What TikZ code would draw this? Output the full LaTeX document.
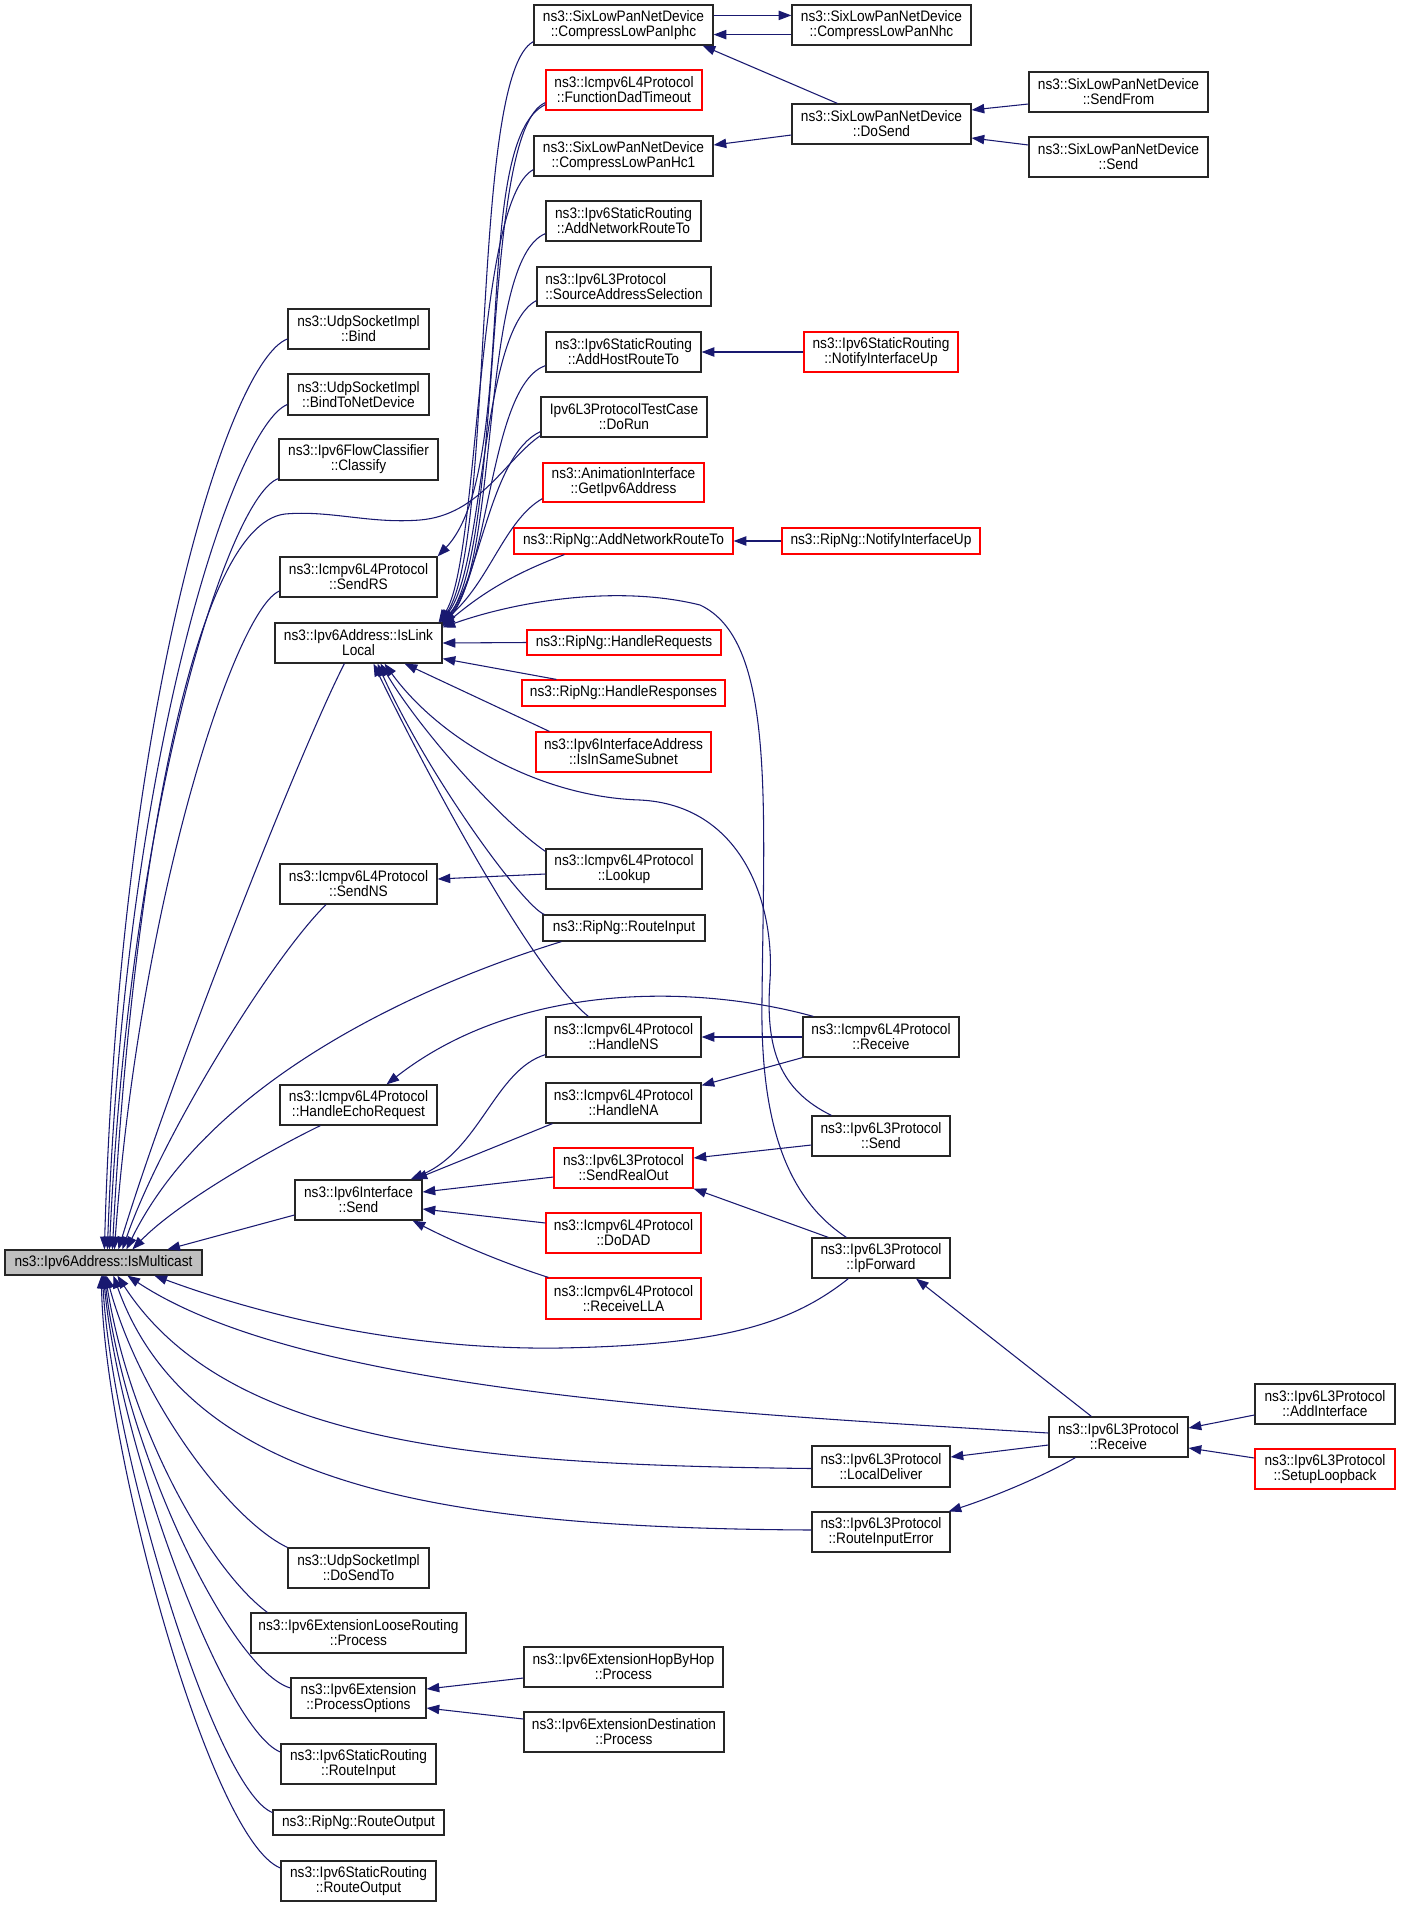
\documentclass[tikz,border=0pt]{standalone}
\usepackage{fontspec}
\setmainfont{Liberation Sans}[FakeStretch=0.9]
\usetikzlibrary{arrows.meta,calc}
\definecolor{edgec}{HTML}{191970}
\definecolor{redc}{HTML}{FF0000}
\definecolor{grayc}{HTML}{BFBFBF}
\newcommand{\mkbox}[7]{\node[#2, minimum width={(#5-#3)*0.75pt}, minimum height={(#6-#4)*0.75pt}] (#1) at ({(#3+#5)/2},{(#4+#6)/2}) {#7};}
\begin{document}
\begin{tikzpicture}[x=0.75pt,y=-0.75pt,
  callbox/.style={draw=black!85, line width=0.9pt, fill=white, inner sep=0pt, align=center, font=\fontsize{11.4}{11.25}\selectfont},
  redbox/.style={callbox, draw=redc},
  graybox/.style={callbox, fill=grayc},
  calledge/.style={draw=edgec, line width=0.8pt, -{Triangle[length=9.5pt,width=7pt]}}]
\useasboundingbox (0,0) rectangle (1400,1907);
% nodes
\mkbox{iphc}{callbox}{534}{5}{713}{45}{ns3::SixLowPanNetDevice\\::CompressLowPanIphc}
\mkbox{nhc}{callbox}{792}{5}{971}{45}{ns3::SixLowPanNetDevice\\::CompressLowPanNhc}
\mkbox{dad}{redbox}{546}{70}{702}{110}{ns3::Icmpv6L4Protocol\\::FunctionDadTimeout}
\mkbox{dosend}{callbox}{792}{104}{971}{144}{ns3::SixLowPanNetDevice\\::DoSend}
\mkbox{sendfrom}{callbox}{1029}{72}{1208}{112}{ns3::SixLowPanNetDevice\\::SendFrom}
\mkbox{sixsend}{callbox}{1029}{137}{1208}{177}{ns3::SixLowPanNetDevice\\::Send}
\mkbox{hcone}{callbox}{534}{136}{713}{176}{ns3::SixLowPanNetDevice\\::CompressLowPanHc1}
\mkbox{addnet}{callbox}{546}{201}{701}{241}{ns3::Ipv6StaticRouting\\::AddNetworkRouteTo}
\mkbox{srcsel}{callbox,align=left}{537}{267}{711}{306}{ns3::Ipv6L3Protocol\\::SourceAddressSelection}
\mkbox{addhost}{callbox}{546}{332}{701}{372}{ns3::Ipv6StaticRouting\\::AddHostRouteTo}
\mkbox{srnotify}{redbox}{804}{332}{958}{372}{ns3::Ipv6StaticRouting\\::NotifyInterfaceUp}
\mkbox{dorun}{callbox}{541}{397}{707}{437}{Ipv6L3ProtocolTestCase\\::DoRun}
\mkbox{getip}{redbox}{543}{463}{704}{502}{ns3::AnimationInterface\\::GetIpv6Address}
\mkbox{ripadd}{redbox}{514}{528}{733}{554}{ns3::RipNg::AddNetworkRouteTo}
\mkbox{ripnotify}{redbox}{782}{528}{980}{554}{ns3::RipNg::NotifyInterfaceUp}
\mkbox{bind}{callbox}{288}{309}{429}{349}{ns3::UdpSocketImpl\\::Bind}
\mkbox{bindnd}{callbox}{288}{374}{429}{415}{ns3::UdpSocketImpl\\::BindToNetDevice}
\mkbox{classify}{callbox}{279}{439}{438}{480}{ns3::Ipv6FlowClassifier\\::Classify}
\mkbox{sendrs}{callbox}{280}{557}{437}{597}{ns3::Icmpv6L4Protocol\\::SendRS}
\mkbox{ll}{callbox}{275}{623}{442}{663}{ns3::Ipv6Address::IsLink\\Local}
\mkbox{hreq}{redbox}{527}{630}{721}{655}{ns3::RipNg::HandleRequests}
\mkbox{hresp}{redbox}{522}{680}{725}{706}{ns3::RipNg::HandleResponses}
\mkbox{samesub}{redbox}{536}{732}{711}{772}{ns3::Ipv6InterfaceAddress\\::IsInSameSubnet}
\mkbox{lookup}{callbox}{546}{849}{702}{889}{ns3::Icmpv6L4Protocol\\::Lookup}
\mkbox{sendns}{callbox}{280}{864}{437}{904}{ns3::Icmpv6L4Protocol\\::SendNS}
\mkbox{ripin}{callbox}{543}{915}{705}{941}{ns3::RipNg::RouteInput}
\mkbox{hns}{callbox}{546}{1017}{701}{1057}{ns3::Icmpv6L4Protocol\\::HandleNS}
\mkbox{recvfour}{callbox}{803}{1017}{959}{1057}{ns3::Icmpv6L4Protocol\\::Receive}
\mkbox{hecho}{callbox}{280}{1085}{437}{1125}{ns3::Icmpv6L4Protocol\\::HandleEchoRequest}
\mkbox{hna}{callbox}{546}{1083}{701}{1123}{ns3::Icmpv6L4Protocol\\::HandleNA}
\mkbox{lthreesend}{callbox}{812}{1116}{950}{1156}{ns3::Ipv6L3Protocol\\::Send}
\mkbox{sro}{redbox}{554}{1148}{693}{1188}{ns3::Ipv6L3Protocol\\::SendRealOut}
\mkbox{ifsend}{callbox}{295}{1180}{422}{1220}{ns3::Ipv6Interface\\::Send}
\mkbox{dodad}{redbox}{546}{1213}{701}{1253}{ns3::Icmpv6L4Protocol\\::DoDAD}
\mkbox{ipfwd}{callbox}{812}{1238}{950}{1278}{ns3::Ipv6L3Protocol\\::IpForward}
\mkbox{mc}{graybox}{5}{1250}{202}{1275}{ns3::Ipv6Address::IsMulticast}
\mkbox{rlla}{redbox}{546}{1278}{701}{1319}{ns3::Icmpv6L4Protocol\\::ReceiveLLA}
\mkbox{addif}{callbox}{1255}{1384}{1395}{1424}{ns3::Ipv6L3Protocol\\::AddInterface}
\mkbox{recvthree}{callbox}{1049}{1417}{1188}{1457}{ns3::Ipv6L3Protocol\\::Receive}
\mkbox{locdel}{callbox}{812}{1446}{950}{1487}{ns3::Ipv6L3Protocol\\::LocalDeliver}
\mkbox{loopb}{redbox}{1255}{1449}{1395}{1489}{ns3::Ipv6L3Protocol\\::SetupLoopback}
\mkbox{rie}{callbox}{812}{1512}{950}{1552}{ns3::Ipv6L3Protocol\\::RouteInputError}
\mkbox{dosendto}{callbox}{288}{1548}{429}{1588}{ns3::UdpSocketImpl\\::DoSendTo}
\mkbox{loose}{callbox}{251}{1613}{466}{1653}{ns3::Ipv6ExtensionLooseRouting\\::Process}
\mkbox{hop}{callbox}{524}{1647}{723}{1687}{ns3::Ipv6ExtensionHopByHop\\::Process}
\mkbox{procopt}{callbox}{291}{1678}{426}{1718}{ns3::Ipv6Extension\\::ProcessOptions}
\mkbox{dest}{callbox}{524}{1712}{724}{1752}{ns3::Ipv6ExtensionDestination\\::Process}
\mkbox{sri}{callbox}{281}{1744}{436}{1784}{ns3::Ipv6StaticRouting\\::RouteInput}
\mkbox{ripout}{callbox}{273}{1810}{444}{1835}{ns3::RipNg::RouteOutput}
\mkbox{srout}{callbox}{281}{1861}{436}{1901}{ns3::Ipv6StaticRouting\\::RouteOutput}
% simple edges
\draw[calledge] ($(iphc.north east)+(0,11)$) -- ($(nhc.north west)+(0,11)$);
\draw[calledge] ($(nhc.south west)+(0,-11)$) -- ($(iphc.south east)+(0,-11)$);
\draw[calledge] ($(dosend.north west)+(46,0)$) -- ($(iphc.south east)+(-11,0)$);
\draw[calledge] ($(dosend.west)+(0,11)$) -- ($(hcone.east)+(0,-11)$);
\draw[calledge] ($(sendfrom.west)+(0,12)$) -- ($(dosend.east)+(0,-14)$);
\draw[calledge] ($(sixsend.west)+(0,-12)$) -- ($(dosend.east)+(0,14)$);
\draw[calledge] (srnotify.west) -- (addhost.east);
\draw[calledge] (ripnotify.west) -- (ripadd.east);
\draw[calledge] ($(lookup.west)+(0,5)$) -- ($(sendns.east)+(0,-5)$);
\draw[calledge] (recvfour.west) -- (hns.east);
\draw[calledge] (recvfour.south west) -- ($(hna.north east)+(0,3)$);
\draw[calledge] ($(lthreesend.west)+(0,9)$) -- ($(sro.east)+(0,-10)$);
\draw[calledge] ($(ipfwd.north west)+(17,0)$) -- (sro.south east);
\draw[calledge] ($(recvthree.north west)+(43,0)$) -- ($(ipfwd.south)+(35,0)$);
\draw[calledge] ($(addif.west)+(0,11)$) -- ($(recvthree.east)+(0,-9)$);
\draw[calledge] ($(loopb.west)+(0,-11)$) -- ($(recvthree.east)+(0,11)$);
\draw[calledge] ($(recvthree.west)+(0,8)$) -- ($(locdel.east)+(0,-9.5)$);
\draw[calledge] ($(recvthree.south west)+(27,0)$) .. controls (1040,1478) and (990,1498) .. ($(rie.north east)+(-2,0)$);
\draw[calledge] ($(hop.west)+(0,11)$) -- ($(procopt.east)+(0,-9)$);
\draw[calledge] ($(dest.west)+(0,-13)$) -- ($(procopt.east)+(0,10)$);
% Ipv6Interface::Send callers
\draw[calledge] ($(hns.south west)+(0,-3)$) .. controls (495,1070) and (480,1150) .. ($(ifsend.north east)+(-12,0)$);
\draw[calledge] ($(hna.south west)+(7,0)$) -- ($(ifsend.north east)+(-8,0)$);
\draw[calledge] ($(sro.west)+(0,9)$) -- ($(ifsend.east)+(0,-8)$);
\draw[calledge] ($(dodad.west)+(0,-10)$) -- ($(ifsend.east)+(0,9)$);
\draw[calledge] ($(rlla.north west)+(3,0)$) .. controls (500,1262) and (450,1240) .. ($(ifsend.south east)+(-10,0)$);
% HandleEchoRequest <- Receive
\draw[calledge] ($(recvfour.north west)+(11,0)$) .. controls (700,985) and (520,980) .. ($(hecho.north)+(28,0)$);
% IsLinkLocal callers (right side)
\draw[calledge] (hreq.west) -- (ll.east);
\draw[calledge] ($(hresp.north west)+(35,0)$) -- ($(ll.south east)+(0,-5)$);
\draw[calledge] ($(samesub.north west)+(14,0)$) -- ($(ll.south east)+(-38,0)$);
\draw[calledge] ($(lookup.north west)+(0,3)$) .. controls (500,820) and (420,730) .. ($(ll.south)+(22,0)$);
\draw[calledge] ($(ripin.north west)+(2,0)$) .. controls (525,908) and (430,780) .. ($(ll.south)+(19,0)$);
\draw[calledge] ($(hns.north west)+(43,0)$) .. controls (530,970) and (420,760) .. ($(ll.south)+(15,0)$);
\draw[calledge] ($(lthreesend.north west)+(20,0)$) .. controls (780,1090) and (765,1050) .. (770,980) .. controls (775,900) and (740,805) .. (640,800) .. controls (540,797) and (440,740) .. ($(ll.south)+(26,0)$);
\draw[calledge] ($(ipfwd.north west)+(35,0)$) .. controls (790,1200) and (760,1130) .. (762,1000) .. controls (764,800) and (775,640) .. (700,605) .. controls (620,585) and (520,600) .. ($(ll.north east)+(0,5)$);
% IsLinkLocal callers (top cluster)
\draw[calledge] ($(iphc.south west)+(0,-4)$) .. controls (470,75) and (495,540) .. ($(ll.north east)+(-2,0)$);
\draw[calledge] ($(dad.south west)+(0,-8)$) .. controls (480,130) and (505,540) .. ($(ll.north east)+(0,2)$);
\draw[calledge] ($(hcone.south west)+(0,-7)$) .. controls (475,200) and (480,560) .. ($(ll.north east)+(-4,0)$);
\draw[calledge] ($(addnet.south west)+(0,-8)$) .. controls (480,260) and (500,560) .. ($(ll.north east)+(0,3)$);
\draw[calledge] ($(srcsel.south west)+(0,-6)$) .. controls (480,330) and (485,570) .. ($(ll.north east)+(-3,0)$);
\draw[calledge] ($(addhost.south west)+(0,-7)$) .. controls (490,385) and (490,570) .. ($(ll.north east)+(0,1)$);
\draw[calledge] ($(dorun.south west)+(0,-6)$) .. controls (490,455) and (480,580) .. ($(ll.north east)+(-1,0)$);
\draw[calledge] ($(getip.south west)+(0,-4)$) .. controls (505,520) and (490,580) .. (ll.north east);
\draw[calledge] ($(ripadd.south west)+(51,0)$) .. controls (510,575) and (480,595) .. ($(ll.north east)+(0,4)$);
% SendRS <- FunctionDadTimeout
\draw[calledge] ($(dad.south west)+(0,-6)$) .. controls (470,140) and (520,470) .. (sendrs.north east);
% IsMulticast callers (top)
\draw[calledge] ($(bind.west)+(0,10)$) .. controls (230,360) and (120,700) .. ($(mc.north west)+(100,0)$);
\draw[calledge] ($(bindnd.west)+(0,10)$) .. controls (235,425) and (125,750) .. ($(mc.north west)+(103,0)$);
\draw[calledge] ($(classify.south west)+(0,-2)$) .. controls (230,495) and (130,800) .. ($(mc.north west)+(105,0)$);
\draw[calledge] ($(dorun.south west)+(0,-2)$) .. controls (505,460) and (480,515) .. (420,520) .. controls (370,524) and (330,510) .. (285,514) .. controls (190,525) and (130,900) .. ($(mc.north west)+(108,0)$);
\draw[calledge] ($(sendrs.west)+(0,14)$) .. controls (235,610) and (140,900) .. ($(mc.north west)+(110,0)$);
\draw[calledge] ($(ll.south west)+(70,0)$) .. controls (300,750) and (170,1080) .. ($(mc.north west)+(114,0)$);
\draw[calledge] ($(sendns.south)+(-32.5,0)$) .. controls (270,960) and (160,1140) .. ($(mc.north west)+(118,0)$);
\draw[calledge] ($(ripin.south west)+(19,0)$) .. controls (420,985) and (210,1080) .. ($(mc.north west)+(122,0)$);
\draw[calledge] ($(hecho.south west)+(41,0)$) .. controls (280,1145) and (180,1200) .. ($(mc.north west)+(128,0)$);
\draw[calledge] ($(ifsend.west)+(0,15)$) -- ($(mc.north west)+(163,0)$);
% IsMulticast callers (bottom)
\draw[calledge] ($(ipfwd.south west)+(37,0)$) .. controls (790,1325) and (720,1345) .. (560,1348) .. controls (420,1350) and (280,1322) .. ($(mc.south west)+(150,0)$);
\draw[calledge] ($(recvthree.west)+(0,-4)$) .. controls (700,1412) and (300,1390) .. ($(mc.south west)+(123,0)$);
\draw[calledge] ($(locdel.west)+(0,2)$) .. controls (500,1465) and (230,1450) .. ($(mc.south west)+(113,0)$);
\draw[calledge] ($(rie.west)+(0,-2)$) .. controls (450,1528) and (190,1490) .. ($(mc.south west)+(109,0)$);
\draw[calledge] (dosendto.north west) .. controls (230,1520) and (140,1400) .. ($(mc.south west)+(102,0)$);
\draw[calledge] ($(loose.north west)+(17,0)$) .. controls (210,1570) and (130,1430) .. ($(mc.south west)+(101,0)$);
\draw[calledge] ($(procopt.west)+(0,-10)$) .. controls (230,1670) and (125,1450) .. ($(mc.south west)+(100,0)$);
\draw[calledge] ($(sri.west)+(0,-12)$) .. controls (225,1730) and (120,1450) .. ($(mc.south west)+(99,0)$);
\draw[calledge] ($(ripout.west)+(0,-10)$) .. controls (215,1790) and (112,1450) .. ($(mc.south west)+(98,0)$);
\draw[calledge] ($(srout.west)+(0,-13)$) .. controls (210,1840) and (104,1450) .. ($(mc.south west)+(97,0)$);
\end{tikzpicture}
\end{document}
